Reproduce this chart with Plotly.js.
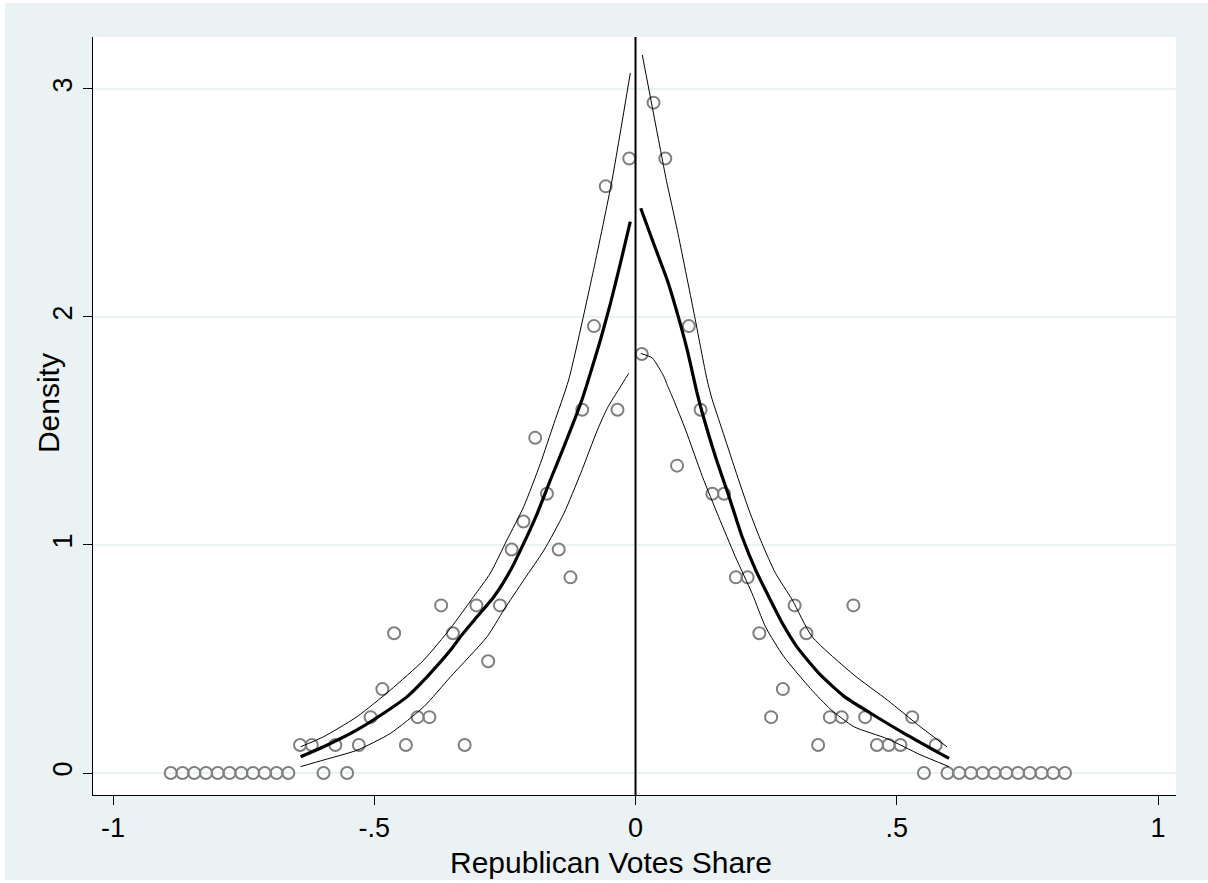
<!DOCTYPE html>
<html>
<head>
<meta charset="utf-8">
<script src="https://cdn.plot.ly/plotly-3.0.1.min.js"></script>
<style>
  html, body { margin: 0; padding: 0; background: #ffffff; }
  #chart { position: absolute; left: 5px; top: 3px; width: 1203px; height: 877px; }
</style>
</head>
<body>
<div id="chart"></div>
<script>
// Bin midpoints and bin densities (left and right of the cutoff)
const binLeftX = [-0.012,-0.0345,-0.057,-0.0795,-0.102,-0.1245,-0.147,-0.1695,-0.192,-0.2145,
  -0.237,-0.2595,-0.282,-0.3045,-0.327,-0.3495,-0.372,-0.3945,-0.417,-0.4395,
  -0.462,-0.4845,-0.507,-0.5295,-0.552,-0.5745,-0.597,-0.6195,-0.642,-0.6645,
  -0.687,-0.7095,-0.732,-0.7545,-0.777,-0.7995,-0.822,-0.8445,-0.867,-0.8895];
const binLeftY = [2.695,1.593,2.573,1.960,1.593,0.858,0.980,1.225,1.470,1.103,
  0.980,0.735,0.490,0.735,0.123,0.613,0.735,0.245,0.245,0.123,
  0.613,0.368,0.245,0.123,0,0.123,0,0.123,0.123,0,
  0,0,0,0,0,0,0,0,0,0];
const binRightX = [0.012,0.0345,0.057,0.0795,0.102,0.1245,0.147,0.1695,0.192,0.2145,
  0.237,0.2595,0.282,0.3045,0.327,0.3495,0.372,0.3945,0.417,0.4395,
  0.462,0.4845,0.507,0.5295,0.552,0.5745,0.597,0.6195,0.642,0.6645,
  0.687,0.7095,0.732,0.7545,0.777,0.7995,0.822];
const binRightY = [1.838,2.940,2.695,1.348,1.960,1.593,1.225,1.225,0.858,0.858,
  0.613,0.245,0.368,0.735,0.613,0.123,0.245,0.245,0.735,0.245,
  0.123,0.123,0.123,0.245,0,0.123,0,0,0,0,
  0,0,0,0,0,0,0];

// Fitted density (left)
const fitLeftX = [-0.641,-0.597,-0.533,-0.482,-0.437,-0.399,-0.354,-0.335,-0.303,-0.271,-0.239,-0.214,-0.188,-0.163,-0.137,-0.112,-0.102,-0.086,-0.067,-0.048,-0.029,-0.010];
const fitLeftY = [0.071,0.115,0.189,0.262,0.335,0.422,0.539,0.598,0.686,0.773,0.890,1.007,1.139,1.285,1.431,1.578,1.640,1.756,1.900,2.060,2.235,2.418];
// Upper CI (left)
const hiLeftX = [-0.641,-0.597,-0.533,-0.469,-0.405,-0.354,-0.310,-0.278,-0.246,-0.214,-0.182,-0.156,-0.128,-0.080,-0.045,-0.010];
const hiLeftY = [0.115,0.159,0.247,0.364,0.496,0.635,0.773,0.876,1.022,1.168,1.358,1.534,1.724,2.210,2.600,3.070];
// Lower CI (left)
const loLeftX = [-0.641,-0.597,-0.533,-0.469,-0.405,-0.354,-0.284,-0.252,-0.214,-0.175,-0.137,-0.105,-0.073,-0.054,-0.030,-0.013];
const loLeftY = [0.028,0.057,0.100,0.174,0.291,0.422,0.598,0.715,0.846,0.978,1.139,1.314,1.504,1.600,1.690,1.753];

// Fitted density (right)
const fitRightX = [0.010,0.035,0.061,0.080,0.099,0.118,0.128,0.153,0.179,0.204,0.230,0.255,0.281,0.310,0.354,0.400,0.450,0.514,0.600];
const fitRightY = [2.477,2.320,2.160,2.016,1.855,1.665,1.578,1.387,1.212,1.036,0.890,0.773,0.657,0.550,0.430,0.335,0.262,0.174,0.064];
// Upper CI (right)
const hiRightX = [0.013,0.048,0.059,0.080,0.112,0.137,0.147,0.166,0.191,0.217,0.242,0.268,0.300,0.338,0.418,0.482,0.545,0.596];
const hiRightY = [3.149,2.730,2.600,2.380,2.016,1.724,1.636,1.504,1.329,1.154,1.007,0.876,0.759,0.598,0.430,0.320,0.203,0.115];
// Lower CI (right)
const loRightX = [0.010,0.032,0.054,0.061,0.073,0.096,0.128,0.159,0.191,0.223,0.249,0.284,0.335,0.373,0.418,0.482,0.545,0.600];
const loRightY = [1.840,1.820,1.740,1.700,1.636,1.504,1.300,1.124,0.949,0.788,0.640,0.510,0.370,0.280,0.203,0.150,0.080,0.028];

const xTickVals = [-1,-0.5,0,0.5,1];
const xTickText = ['-1','-.5','0','.5','1'];
const yTickVals = [0,1,2,3];
const yTickText = ['0','1','2','3'];
const xTitle = 'Republican Votes Share';
const yTitle = 'Density';

const markerStyle = {symbol:'circle-open', size:12, color:'#7f7f7f', line:{width:2, color:'#7f7f7f'}};
const thin = {color:'#000000', width:1, shape:'spline', smoothing:0.6};
const thick = {color:'#000000', width:3.2, shape:'spline', smoothing:0.6};

const traces = [
  {x: binLeftX, y: binLeftY, mode:'markers', type:'scatter', marker: markerStyle},
  {x: binRightX, y: binRightY, mode:'markers', type:'scatter', marker: markerStyle},
  {x: hiLeftX, y: hiLeftY, mode:'lines', type:'scatter', line: thin},
  {x: loLeftX, y: loLeftY, mode:'lines', type:'scatter', line: thin},
  {x: fitLeftX, y: fitLeftY, mode:'lines', type:'scatter', line: thick},
  {x: hiRightX, y: hiRightY, mode:'lines', type:'scatter', line: thin},
  {x: loRightX, y: loRightY, mode:'lines', type:'scatter', line: thin},
  {x: fitRightX, y: fitRightY, mode:'lines', type:'scatter', line: thick}
];

const fontFam = '"Liberation Sans", Arial, sans-serif';
const layout = {
  width: 1203, height: 877,
  paper_bgcolor: '#EAF2F3',
  plot_bgcolor: '#FFFFFF',
  showlegend: false,
  margin: {l: 88, r: 32, t: 34, b: 85},
  font: {family: fontFam, color: '#000000', size: 27},
  xaxis: {
    range: [-1.0383, 1.0344],
    tickvals: xTickVals, ticktext: xTickText,
    ticks: 'outside', ticklen: 9, tickwidth: 1, tickcolor: '#000000',
    showline: true, linecolor: '#000000', linewidth: 1,
    showgrid: false, zeroline: false,
    tickfont: {family: fontFam, size: 27, color: '#000000'}
  },
  yaxis: {
    range: [-0.0965, 3.228],
    tickvals: yTickVals, ticktext: yTickText,
    tickangle: -90,
    ticks: 'outside', ticklen: 9, tickwidth: 1, tickcolor: '#000000',
    showline: true, linecolor: '#000000', linewidth: 1,
    showgrid: true, gridcolor: '#EAF2F3', gridwidth: 2,
    zeroline: false,
    tickfont: {family: fontFam, size: 27, color: '#000000'}
  },
  annotations: [
    {text: xTitle, xref:'paper', yref:'paper', x: 0.478, y: 0, xanchor:'center', yanchor:'middle',
     yshift: -67, showarrow: false, font: {family: fontFam, size: 30, color: '#000000'}},
    {text: yTitle, xref:'paper', yref:'paper', x: 0, y: 0.517, xanchor:'center', yanchor:'middle',
     xshift: -45, textangle: -90, showarrow: false, font: {family: fontFam, size: 30, color: '#000000'}}
  ],
  shapes: [
    {type:'line', xref:'x', yref:'paper', x0:0, x1:0, y0:0, y1:1, line:{color:'#000000', width:2}, layer:'above'}
  ]
};

Plotly.newPlot('chart', traces, layout, {displayModeBar: false, staticPlot: true});
</script>
</body>
</html>
